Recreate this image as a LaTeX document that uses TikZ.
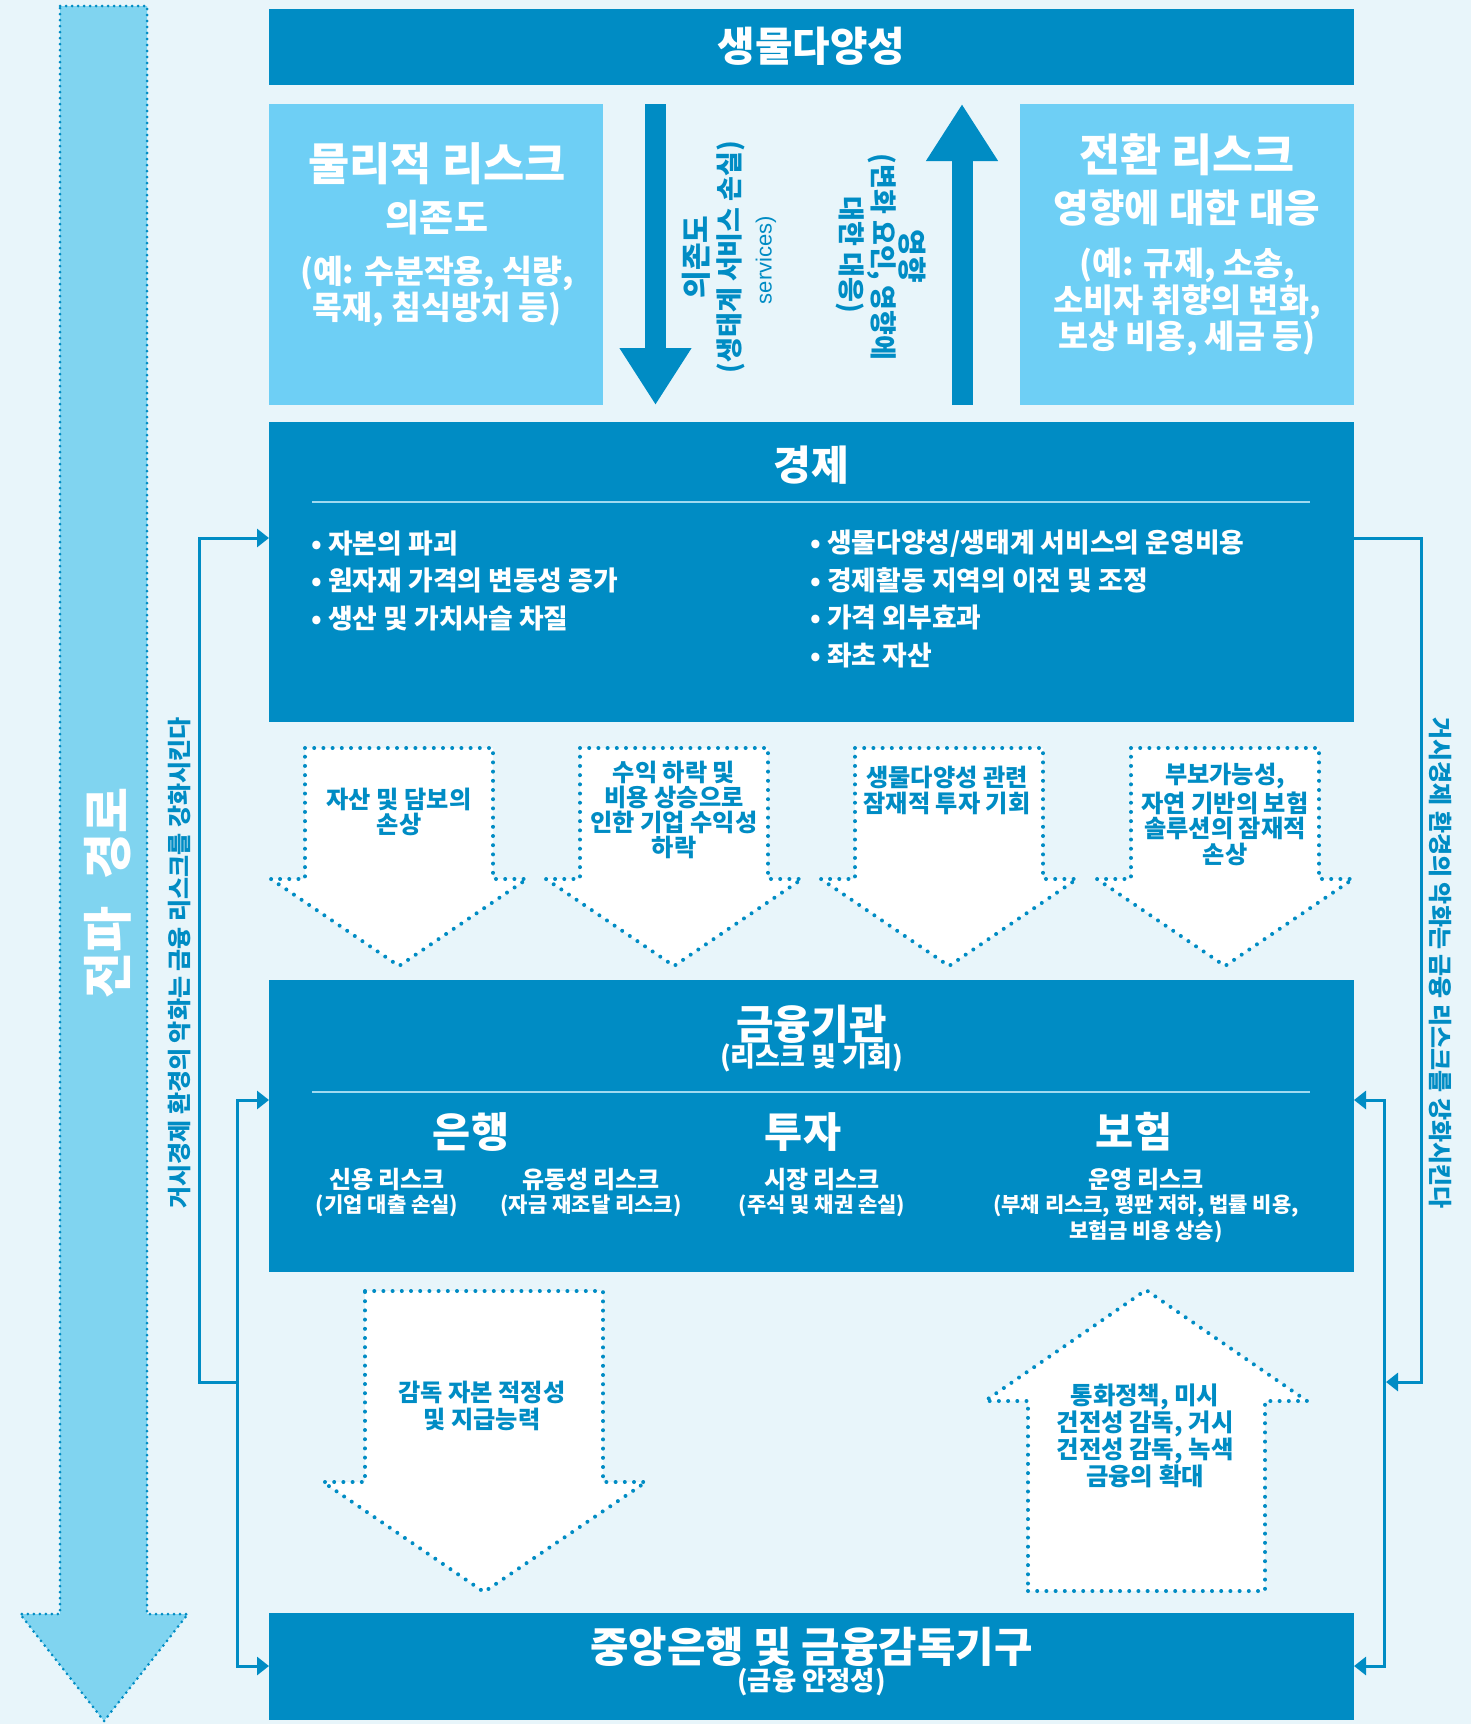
\documentclass[tikz,border=0pt]{standalone}
\usepackage{fontspec}
\setmainfont{Noto Sans CJK KR}
\newfontfamily\latinsans{Liberation Sans}
\usetikzlibrary{arrows.meta}
\definecolor{bgc}{RGB}{232,245,250}
\definecolor{dblue}{RGB}{0,140,196}
\definecolor{lblue}{RGB}{110,207,245}
\definecolor{abl}{RGB}{128,212,240}
\definecolor{divc}{RGB}{160,218,240}
\newcommand{\kfs}[2]{\fontsize{#1}{#2}\selectfont}
\begin{document}
\begin{tikzpicture}[x=0.5pt,y=-0.5pt,
  box/.style={fill=dblue, inner sep=0pt, outer sep=0pt},
  lbox/.style={fill=lblue, inner sep=0pt, outer sep=0pt},
  wtxt/.style={text=white, inner sep=0pt, align=center},
  btxt/.style={text=dblue, inner sep=0pt, align=center},
  conn/.style={draw=dblue, line width=1.5pt, -{Triangle[length=6pt,width=9pt]}},
  dotarrow/.style={draw=dblue, fill=white, line width=2pt, line cap=round, line join=round, dash pattern=on 0pt off 4.6pt},
  bigarrow/.style={draw=dblue, fill=abl, line width=1.5pt, line cap=round, dash pattern=on 0pt off 3pt},
  solidarr/.style={draw=dblue, line width=10.5pt, -{Triangle[length=28.5pt,width=34pt]}},
  divider/.style={draw=divc, line width=1pt},
]
\useasboundingbox (0,0) rectangle (1471,1724);
\fill[bgc] (0,0) rectangle (1471,1724);

% big propagation arrow
\draw[bigarrow] (60,6) -- (147,6) -- (147,1614) -- (188,1614) -- (104,1721) -- (20,1614) -- (60,1614) -- cycle;
\node[wtxt, rotate=90, font=\bfseries\kfs{25pt}{30pt}] (pathlbl) at (108,893) {전파\hspace{0.55em}경로};

% side texts
\node[btxt, rotate=90, font=\bfseries\kfs{12pt}{14pt}] (lside) at (179,963) {거시경제 환경의 악화는 금융 리스크를 강화시킨다};
\node[btxt, rotate=-90, font=\bfseries\kfs{12pt}{14pt}] (rside) at (1440,963) {거시경제 환경의 악화는 금융 리스크를 강화시킨다};

% biodiversity
\node[box, minimum width=542.5pt, minimum height=38pt] (bio) at (811.5,47) {};
\node[wtxt, font=\bfseries\kfs{20.4pt}{24pt}] (biot) at (811.5,46) {생물다양성};

% physical risk
\node[lbox, minimum width=167pt, minimum height=150.5pt] (phys) at (436,254.5) {};
\node[wtxt, font=\bfseries\kfs{22.4pt}{26pt}] (physa) at (437,164) {물리적 리스크};
\node[wtxt, font=\bfseries\kfs{18.5pt}{22pt}] (physb) at (437,218) {의존도};
\node[wtxt, font=\bfseries\kfs{16.25pt}{18pt}] (physc) at (437,291) {(예: 수분작용, 식량,\\목재, 침식방지 등)};

% transition risk
\node[lbox, minimum width=167pt, minimum height=150.5pt] (trans) at (1187,254.5) {};
\node[wtxt, font=\bfseries\kfs{22.3pt}{26pt}] (transa) at (1187,155) {전환 리스크};
\node[wtxt, font=\bfseries\kfs{19.3pt}{22pt}] (transb) at (1187,208) {영향에 대한 대응};
\node[wtxt, font=\bfseries\kfs{16.35pt}{18.25pt}] (transc) at (1187,302) {(예: 규제, 소송,\\소비자 취향의 변화,\\보상 비용, 세금 등)};

% solid arrows
\coordinate (dtop) at (655.5,104); \coordinate (dbot) at (655.5,405);
\draw[solidarr] (dtop) -- (dbot);
\coordinate (utop) at (962,104); \coordinate (ubot) at (962,405);
\draw[solidarr] (ubot) -- (utop);
\node[btxt, rotate=90, font=\bfseries\kfs{15pt}{18pt}] (depa) at (696,257) {의존도};
\node[btxt, rotate=90, font=\bfseries\kfs{13.5pt}{16pt}] (depb) at (731,257) {(생태계 서비스 손실)};
\node[btxt, rotate=90, font=\latinsans\kfs{11pt}{14pt}] (depc) at (766,260) {services)};
\node[btxt, rotate=-90, font=\bfseries\kfs{14.5pt}{17pt}] (impa) at (912,256) {영향};
\node[btxt, rotate=-90, font=\bfseries\kfs{13.5pt}{16pt}] (impb) at (882,257) {(변화 요인, 영향에};
\node[btxt, rotate=-90, font=\bfseries\kfs{13.5pt}{16pt}] (impc) at (850,255) {대한 대응)};

% economy
\node[box, minimum width=542.5pt, minimum height=150pt] (econ) at (811.5,572) {};
\node[wtxt, font=\bfseries\kfs{20.5pt}{24pt}] (econt) at (811.5,465) {경제};
\draw[divider] (312,502) -- (1310,502);
\node[wtxt, anchor=west, align=left, font=\bfseries\kfs{13.4pt}{18.75pt}] (econl) at (311,580.5) {• 자본의 파괴\\• 원자재 가격의 변동성 증가\\• 생산 및 가치사슬 차질};
\node[wtxt, anchor=west, align=left, font=\bfseries\kfs{13.4pt}{18.75pt}] (econr) at (810,599) {• 생물다양성/생태계 서비스의 운영비용\\• 경제활동 지역의 이전 및 조정\\• 가격 외부효과\\• 좌초 자산};

% dotted arrows econ -> fin
\draw[dotarrow] (305,748) -- (493,748) -- (493,879) -- (527,879) -- (399,966) -- (271,879) -- (305,879) -- cycle;
\draw[dotarrow] (580,748) -- (768,748) -- (768,879) -- (802,879) -- (674,966) -- (546,879) -- (580,879) -- cycle;
\draw[dotarrow] (855,748) -- (1043,748) -- (1043,879) -- (1077,879) -- (949,966) -- (821,879) -- (855,879) -- cycle;
\draw[dotarrow] (1131,748) -- (1319,748) -- (1319,879) -- (1353,879) -- (1225,966) -- (1097,879) -- (1131,879) -- cycle;
\node[btxt, font=\bfseries\kfs{12.1pt}{12.75pt}] (a1t) at (399,812) {자산 및 담보의\\손상};
\node[btxt, font=\bfseries\kfs{12.1pt}{12.5pt}] (a2t) at (674,809.5) {수익 하락 및\\비용 상승으로\\인한 기업 수익성\\하락};
\node[btxt, font=\bfseries\kfs{12.1pt}{13.25pt}] (a3t) at (947,790.5) {생물다양성 관련\\잠재적 투자 기회};
\node[btxt, font=\bfseries\kfs{12.1pt}{12.8pt}] (a4t) at (1225,814.5) {부보가능성,\\자연 기반의 보험\\솔루션의 잠재적\\손상};

% financial institutions
\node[box, minimum width=542.5pt, minimum height=146pt] (fin) at (811.5,1126) {};
\node[wtxt, font=\bfseries\kfs{20.4pt}{24pt}] (fint) at (811.5,1024) {금융기관};
\node[wtxt, font=\bfseries\kfs{13.5pt}{16pt}] (fins) at (811.5,1058) {(리스크 및 기회)};
\draw[divider] (312,1092) -- (1310,1092);
\node[wtxt, font=\bfseries\kfs{20.7pt}{24pt}] (bank) at (471,1132) {은행};
\node[wtxt, font=\bfseries\kfs{20.7pt}{24pt}] (inv) at (803,1132) {투자};
\node[wtxt, font=\bfseries\kfs{20.7pt}{24pt}] (ins) at (1134,1132) {보험};
\node[wtxt, font=\bfseries\kfs{12pt}{14pt}] (cr) at (387,1180) {신용 리스크};
\node[wtxt, font=\bfseries\kfs{10.5pt}{13pt}] (crs) at (387,1206) {(기업 대출 손실)};
\node[wtxt, font=\bfseries\kfs{12pt}{14pt}] (lr) at (591,1180) {유동성 리스크};
\node[wtxt, font=\bfseries\kfs{10.5pt}{13pt}] (lrs) at (591,1206) {(자금 재조달 리스크)};
\node[wtxt, font=\bfseries\kfs{12pt}{14pt}] (mr) at (822,1180) {시장 리스크};
\node[wtxt, font=\bfseries\kfs{10.5pt}{13pt}] (mrs) at (822,1206) {(주식 및 채권 손실)};
\node[wtxt, font=\bfseries\kfs{12pt}{14pt}] (orr) at (1146,1180) {운영 리스크};
\node[wtxt, font=\bfseries\kfs{10.5pt}{13pt}] (ors) at (1146,1219) {(부채 리스크, 평판 저하, 법률 비용,\\보험금 비용 상승)};

% dotted arrows fin <-> cb
\draw[dotarrow] (365,1291) -- (603,1291) -- (603,1482) -- (646,1482) -- (484,1592) -- (323,1482) -- (365,1482) -- cycle;
\node[btxt, font=\bfseries\kfs{12.1pt}{13.5pt}] (a5t) at (482,1406) {감독 자본 적정성\\및 지급능력};
\draw[dotarrow] (1028,1591) -- (1265,1591) -- (1265,1401) -- (1307,1401) -- (1146,1290) -- (985,1401) -- (1028,1401) -- cycle;
\node[btxt, font=\bfseries\kfs{12.2pt}{13.4pt}] (a6t) at (1145,1436) {통화정책, 미시\\건전성 감독, 거시\\건전성 감독, 녹색\\금융의 확대};

% central bank
\node[box, minimum width=542.5pt, minimum height=53.5pt] (cb) at (811.5,1666.5) {};
\node[wtxt, font=\bfseries\kfs{20.9pt}{24pt}] (cbt) at (811.5,1647) {중앙은행 및 금융감독기구};
\node[wtxt, font=\bfseries\kfs{13.2pt}{15pt}] (cbs) at (811.5,1682) {(금융 안정성)};

% left feedback connectors
\coordinate (Ltop) at (199,538); \coordinate (Lbot) at (199,1382);
\coordinate (Ljoin) at (237,1382); \coordinate (Lup) at (237,1100); \coordinate (Ldown) at (237,1666);
\draw[conn] (Ljoin) -- (Lbot) -- (Ltop) -- (econ.west |- Ltop);
\draw[conn] (Ljoin) -- (Lup) -- (fin.west |- Lup);
\draw[conn] (Ljoin) -- (Ldown) -- (cb.west |- Ldown);

% right feedback connectors
\coordinate (Rtop) at (1421,538); \coordinate (Rbot) at (1421,1382);
\coordinate (Rtip) at (1386,1382);
\coordinate (Rjoin) at (1384,1382); \coordinate (Rup) at (1384,1100); \coordinate (Rdown) at (1384,1666);
\draw[conn] (econ.east |- Rtop) -- (Rtop) -- (Rbot) -- (Rtip);
\draw[conn] (Rjoin) -- (Rup) -- (fin.east |- Rup);
\draw[conn] (Rjoin) -- (Rdown) -- (cb.east |- Rdown);
\end{tikzpicture}
\end{document}
